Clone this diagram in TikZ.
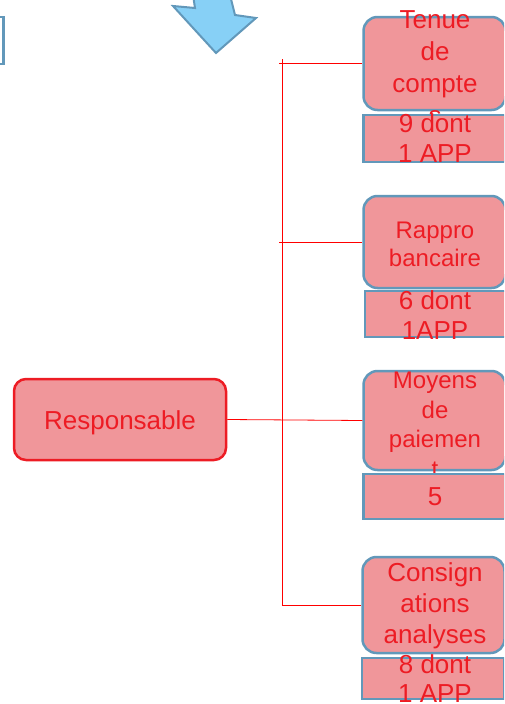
\documentclass[tikz,border=0pt]{standalone}
\usepackage{fontspec}
\setmainfont{Liberation Sans}
\definecolor{boxpink}{RGB}{240,150,154}
\definecolor{boxblue}{RGB}{98,152,186}
\definecolor{txtred}{RGB}{237,28,36}
\definecolor{arrowfill}{RGB}{135,208,246}

\begin{document}
\begin{tikzpicture}[x=1pt,y=-1pt,
  topbox/.style={draw=boxblue, fill=boxpink, line width=2.5pt, rounded corners=14pt, minimum width=142pt, inner sep=0pt},
  subbox/.style={draw=boxblue, fill=boxpink, line width=2.5pt, minimum width=142pt, inner sep=0pt},
  respbox/.style={draw=txtred, fill=boxpink, line width=2.5pt, rounded corners=12pt, minimum width=212pt, minimum height=81pt, inner sep=0pt, text=txtred, text height=25pt, text depth=5.5pt, font=\fontsize{26}{31}\selectfont},
  txt/.style={text=txtred, align=center, inner sep=0pt},
  wire/.style={draw=red, line width=0.8pt}]
\useasboundingbox (0,0) rectangle (504,704);
\clip (0,0) rectangle (504,704);

% arrow and the box cut off on the left
\filldraw[fill=arrowfill, draw=boxblue, line width=2pt] (193,-5) -- (195,8) -- (173,6) -- (216,53) -- (256,18) -- (235,15) -- (230,-5) -- cycle;
\filldraw[fill=white, draw=boxblue, line width=2.5pt] (-10,17) rectangle (3.5,64);

% responsable
\node[respbox] (resp) at (120,419.5) {Responsable};

% tenue de comptes
\node[topbox, minimum height=93pt] (tenue) at (434.5,63.5) {};
\node[txt, font=\fontsize{26}{32}\selectfont] at (435,67.5) {Tenue\\de\\compte\\s};
\node[subbox, minimum height=47pt] (tenuenb) at (434.5,138.5) {};
\node[txt, font=\fontsize{26}{30}\selectfont] at (435,138) {9 dont\\1 APP};

% rappro bancaire
\node[topbox, minimum height=92pt] (rappro) at (434.5,242) {};
\node[txt, font=\fontsize{24}{28}\selectfont] at (435,244) {Rappro\\bancaire};
\node[subbox, minimum height=46pt] (rapprnb) at (436,314) {};
\node[txt, font=\fontsize{26}{30}\selectfont] at (435,315) {6 dont\\1APP};

% moyens de paiement
\node[topbox, minimum height=99pt] (moyens) at (434.5,420.5) {};
\node[txt, font=\fontsize{24}{29.5}\selectfont] at (435,425) {Moyens\\de\\paiemen\\t};
\node[subbox, minimum height=45pt] (moyensnb) at (434.5,496.5) {};
\node[txt, font=\fontsize{26}{30}\selectfont] at (435,497) {5};

% consignations
\node[topbox, minimum height=96pt] (consign) at (433.5,605) {};
\node[txt, font=\fontsize{26}{31}\selectfont] at (435,606) {Consign\\ations\\analyses};
\node[subbox, minimum height=41pt] (consignnb) at (433,678.5) {};
\node[txt, font=\fontsize{26}{29}\selectfont] at (435,679) {8 dont\\1 APP};

% connectors
\coordinate (trunk) at (282,59);
\coordinate (tick1) at (279,63.5);
\coordinate (tick2) at (279,242);
\draw[wire] (trunk) |- (consign.west);
\draw[wire] (tick1) -- (tenue.west);
\draw[wire] (tick2) -- (rappro.west);
\draw[wire] (resp.east) -- (moyens.west);
\end{tikzpicture}
\end{document}
